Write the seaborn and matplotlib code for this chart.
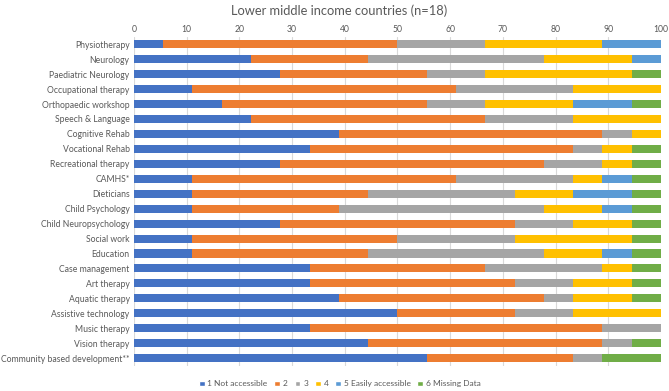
import pandas as pd
import seaborn as sns
import matplotlib.pyplot as plt
from matplotlib.patches import Patch

N = 18

services = [
    'Physiotherapy', 'Neurology', 'Paediatric Neurology', 'Occupational therapy',
    'Orthopaedic workshop', 'Speech & Language', 'Cognitive Rehab',
    'Vocational Rehab', 'Recreational therapy', 'CAMHS*', 'Dieticians',
    'Child Psychology', 'Child Neuropsychology', 'Social work', 'Education',
    'Case management', 'Art therapy', 'Aquatic therapy', 'Assistive technology',
    'Music therapy', 'Vision therapy', 'Community based development**',
]

levels = ['1 Not accessible', '2', '3', '4', '5 Easily accessible', '6 Missing Data']
colors = ['#4472C4', '#ED7D31', '#A5A5A5', '#FFC000', '#5B9BD5', '#70AD47']

# number of countries (out of 18) per answer level
not_accessible = [1, 4, 5, 2, 3, 4, 7, 6, 5, 2, 2, 2, 5, 2, 2, 6, 6, 7, 9, 6, 8, 10]
level_2 = [8, 4, 5, 9, 7, 8, 9, 9, 9, 9, 6, 5, 8, 7, 6, 6, 7, 7, 4, 10, 8, 5]
level_3 = [3, 6, 2, 4, 2, 3, 1, 1, 2, 4, 5, 7, 2, 4, 6, 4, 2, 1, 2, 2, 1, 1]
level_4 = [4, 3, 5, 3, 3, 3, 1, 1, 1, 1, 2, 2, 2, 4, 2, 1, 2, 2, 3, 0, 0, 0]
easily_accessible = [2, 1, 0, 0, 2, 0, 0, 0, 0, 1, 2, 1, 0, 0, 1, 0, 0, 0, 0, 0, 0, 0]
missing = [0, 0, 1, 0, 1, 0, 0, 1, 1, 1, 1, 1, 1, 1, 1, 1, 1, 1, 0, 0, 1, 2]

df = pd.DataFrame({
    levels[0]: not_accessible, levels[1]: level_2, levels[2]: level_3,
    levels[3]: level_4, levels[4]: easily_accessible, levels[5]: missing,
}, index=services)
pct = df / N * 100
cum = pct.cumsum(axis=1)
cum['service'] = services

sns.set_style('white')
plt.rcParams['font.family'] = ['Lato', 'DejaVu Sans']

fig, ax = plt.subplots(figsize=(6.69, 3.91), dpi=100)
fig.subplots_adjust(left=0.2, right=0.988, top=0.906, bottom=0.065)

# draw cumulative layers from the back (largest) to the front
for lev, col in reversed(list(zip(levels, colors))):
    sns.barplot(data=cum, x=lev, y='service', color=col, orient='h',
                width=0.54, ax=ax, zorder=2, linewidth=0, saturation=1)

ax.set_xlim(0, 100)
ax.set_xticks(range(0, 101, 10))
ax.xaxis.tick_top()
ax.grid(axis='x', color='#D9D9D9', linewidth=0.8, zorder=0)
ax.set_axisbelow(True)
for s in ax.spines.values():
    s.set_visible(False)
ax.tick_params(axis='both', length=0, labelsize=6.2, colors='#595959', pad=3)
ax.tick_params(axis='x', pad=2)
ax.set_xlabel('')
ax.set_ylabel('')
ax.set_ylim(len(services) - 0.5, -0.5)

fig.text(0.507, 1 - 11 / 391, 'Lower middle income countries (n=18)', fontsize=9.3,
         color='#595959', ha='center', va='center')

handles = [Patch(facecolor=c, label=l) for l, c in zip(levels, colors)]
fig.legend(handles=handles, loc='lower center', ncol=6, frameon=False,
           fontsize=6, handlelength=0.7, handleheight=0.7, handletextpad=0.35,
           columnspacing=0.8, bbox_to_anchor=(0.508, -0.01), labelcolor='#595959')

plt.savefig('out.png', dpi=100)
